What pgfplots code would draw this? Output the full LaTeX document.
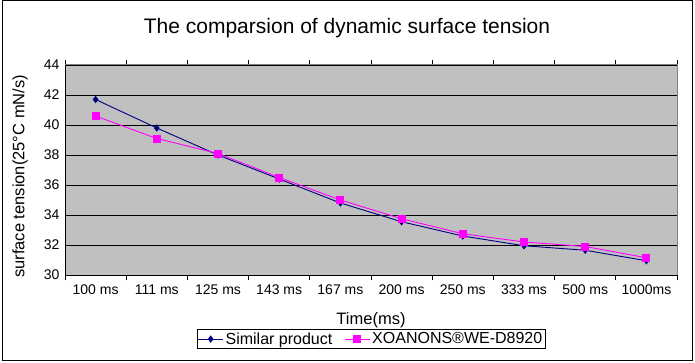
\documentclass[border=0pt]{standalone}
\usepackage{pgfplots}
\pgfplotsset{compat=1.18}
\usepackage{fontspec}
\setmainfont{Liberation Sans}
\definecolor{bg}{HTML}{C0C0C0}
\definecolor{navyc}{HTML}{000080}
\definecolor{magc}{HTML}{FF00FF}
\begin{document}
\begin{tikzpicture}[x=1pt,y=1pt]
\useasboundingbox (0,0) rectangle (695,362);
\draw[black, line width=1pt] (2,1.5) rectangle (692.5,361);
\node[font=\fontsize{21}{24}\selectfont] at (347,334) {The comparsion of dynamic surface tension};
\begin{axis}[
  at={(65pt,87pt)}, anchor=south west,
  scale only axis, width=612pt, height=210pt,
  xmin=-0.5, xmax=9.5, ymin=30, ymax=44,
  ytick={30,32,...,44},
  xtick={0,...,9},
  xticklabels={100 ms,111 ms,125 ms,143 ms,167 ms,200 ms,250 ms,333 ms,500 ms,1000ms},
  minor xtick={-0.5,0.5,...,9.5},
  xtick align=outside,
  major tick length=0pt, minor tick length=5pt,
  minor tick style={black, line width=0.8pt},
  axis line style={draw=none},
  axis background/.style={fill=bg},
  ymajorgrids, major grid style={black, line width=0.8pt},
  tick label style={font=\fontsize{14}{15}\selectfont},
  xticklabel style={yshift=-6pt},
  yticklabel style={xshift=-2pt},
  /pgf/number format/assume math mode=true,
  xlabel={Time(ms)},
  xlabel style={at={(axis description cs:0.5,-0.214)}, anchor=center, font=\fontsize{16.5}{18}\selectfont},
  ylabel={surface tension(25°C mN/s)},
  ylabel style={at={(axis description cs:-0.0735,0.47)}, anchor=center, font=\fontsize{16.5}{18}\selectfont},
  legend style={at={(axis description cs:0.5,-0.305)}, anchor=center, draw=black, fill=white,
    font=\fontsize{16}{17}\selectfont, inner sep=1pt,
    /tikz/every even column/.append style={column sep=10pt}},
  legend columns=2,
  legend image code/.code={\draw[mark repeat=2,mark phase=2] plot coordinates {(0pt,0pt) (12.5pt,0pt) (25pt,0pt)};},
  clip=false,
]
\addplot[navyc, line width=0.9pt, mark=diamond*, mark size=3pt, mark options={fill=navyc, draw=navyc}]
 coordinates {(0,41.7) (1,39.8) (2,38.0) (3,36.4) (4,34.8) (5,33.55) (6,32.6) (7,31.95) (8,31.65) (9,30.95)};
\addlegendentry{Similar product}
\addplot[magc, line width=0.9pt, mark=square*, mark size=3.5pt, mark options={fill=magc, draw=magc}]
 coordinates {(0,40.6) (1,39.1) (2,38.1) (3,36.5) (4,35.0) (5,33.75) (6,32.75) (7,32.2) (8,31.9) (9,31.15)};
\addlegendentry{XOANONS®WE-D8920}
\draw[gray, line width=1pt] (rel axis cs:0,1) -- (rel axis cs:1,1) -- (rel axis cs:1,0);
\draw[black, line width=1pt] (rel axis cs:0,1) -- (rel axis cs:0,0) -- (rel axis cs:1,0);
\end{axis}
\end{tikzpicture}
\end{document}
